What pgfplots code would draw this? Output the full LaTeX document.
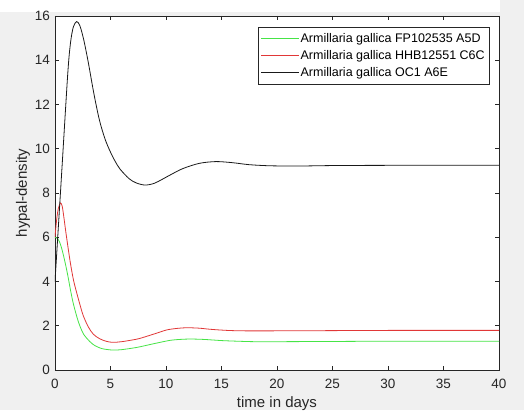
\documentclass[border=0pt]{standalone}
\usepackage{pgfplots}
\pgfplotsset{compat=1.18}
\usepackage{fontspec}
\setmainfont{Liberation Sans}
\definecolor{figbg}{RGB}{240,240,240}
\definecolor{axcol}{RGB}{38,38,38}
\definecolor{mgreen}{RGB}{70,228,70}
\definecolor{mred}{RGB}{225,55,55}
\definecolor{mblack}{RGB}{25,25,25}
\begin{document}
\begin{tikzpicture}[x=1pt,y=1pt]
\fill[figbg] (-55,-40) rectangle (469,370);
\fill[white] (-55,358) rectangle (445,370);
\path[use as bounding box] (-55,-40) rectangle (469,370);
\begin{axis}[
  at={(0,0)}, anchor=south west,
  scale only axis, width=444pt, height=354pt,
  xmin=0, xmax=40, ymin=0, ymax=16,
  xtick={0,5,...,40}, ytick={0,2,...,16},
  axis background/.style={fill=white},
  axis line style={axcol, line width=0.6pt},
  tick style={axcol, line width=0.6pt},
  major tick length=4.4pt, tick align=inside,
  ticklabel style={font=\fontsize{13.5}{16}\selectfont, text=axcol},
  /pgf/number format/assume math mode=true,
  xticklabel style={yshift=-6pt},
  yticklabel style={xshift=-1.5pt},
  xlabel={time in days}, ylabel={hypal-density},
  label style={font=\fontsize{15}{18}\selectfont, text=axcol},
  xlabel style={at={([yshift=-37pt]axis description cs:0.5,0)}, anchor=base},
  ylabel style={at={([xshift=-28pt]axis description cs:0,0.5)}, anchor=base, rotate=0},
  legend style={at={([xshift=-10pt,yshift=-11pt]axis description cs:1,1)}, anchor=north east,
    draw=axcol, line width=0.5pt, fill=white, font=\fontsize{12.5}{15}\selectfont,
    inner sep=3pt, row sep=0pt,
    nodes={inner sep=1pt, text height=11pt, text depth=4pt, text=black},
    cells={anchor=west}},
  legend image code/.code={\draw[#1, line width=0.8pt] (0pt,0pt) -- (38pt,0pt);},
]
\addplot[mgreen, line width=0.8pt, smooth] coordinates {
(0,6.0)(0.2,5.95)(0.4,5.8)(0.6,5.5)(0.8,5.1)(1.0,4.65)(1.2,4.15)(1.4,3.6)(1.65,3.0)(2.0,2.35)(2.25,1.98)(2.6,1.6)(3.15,1.28)(3.6,1.1)(4.2,0.97)(4.8,0.92)(5.3,0.9)(6,0.92)(7,0.99)(7.66,1.05)(9,1.2)(10.36,1.34)(11.2,1.38)(12.2,1.4)(13.5,1.38)(15,1.33)(16.5,1.3)(18,1.28)(20,1.28)(25,1.29)(30,1.3)(40,1.3)};
\addlegendentry{Armillaria gallica FP102535 A5D}
\addplot[mred, line width=0.8pt, smooth] coordinates {
(0,6.0)(0.15,6.8)(0.3,7.3)(0.5,7.55)(0.65,7.4)(0.8,6.9)(1.0,6.15)(1.35,4.95)(1.65,4.1)(1.95,3.5)(2.25,2.95)(2.55,2.45)(3.0,1.95)(3.45,1.62)(4.0,1.42)(4.6,1.3)(5.2,1.25)(6,1.28)(7,1.36)(7.66,1.43)(9,1.64)(10.06,1.81)(11,1.88)(11.9,1.91)(13,1.89)(14,1.84)(15.5,1.79)(17,1.77)(20,1.77)(25,1.78)(30,1.79)(40,1.79)};
\addlegendentry{Armillaria gallica HHB12551 C6C}
\addplot[mblack, line width=0.8pt, smooth] coordinates {
(0,4.0)(0.6,8.9)(1.15,13.4)(1.4,14.8)(1.65,15.5)(1.95,15.75)(2.25,15.55)(2.6,14.9)(3.0,13.9)(3.5,12.5)(4.0,11.3)(4.5,10.45)(4.95,9.9)(5.4,9.45)(5.86,9.08)(6.67,8.65)(7.3,8.46)(8.1,8.36)(9,8.45)(10.36,8.81)(11.5,9.1)(13,9.34)(14.5,9.42)(16,9.37)(17.5,9.28)(19.4,9.23)(22,9.22)(25,9.24)(30,9.25)(40,9.25)};
\addlegendentry{Armillaria gallica OC1 A6E}
\end{axis}
\end{tikzpicture}
\end{document}
